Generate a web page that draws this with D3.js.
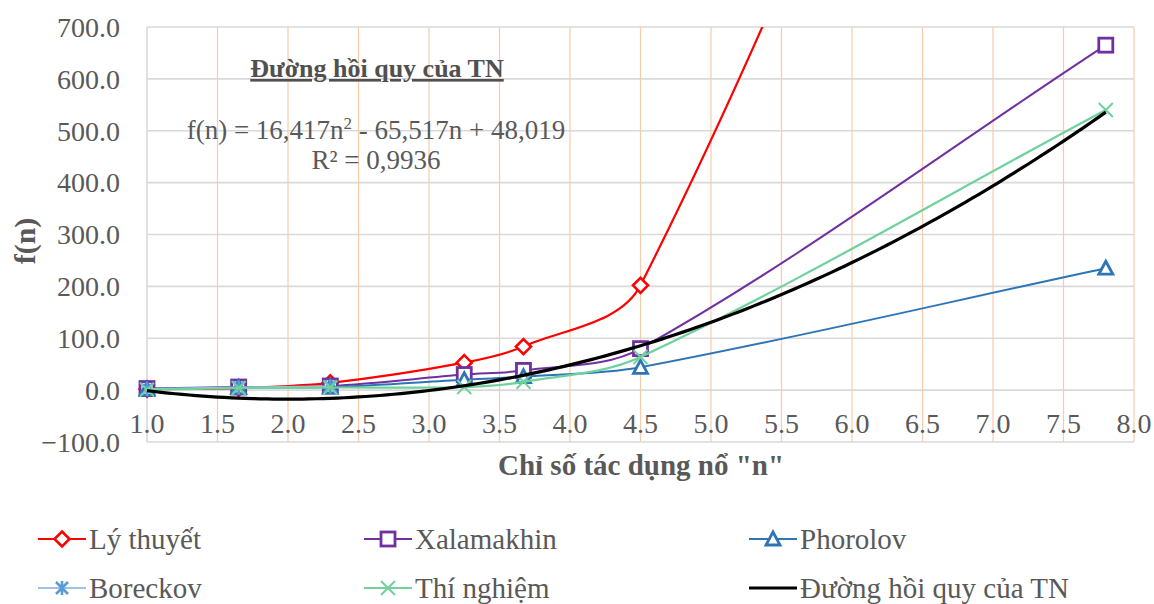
<!DOCTYPE html>
<html><head><meta charset="utf-8">
<script src="https://cdn.jsdelivr.net/npm/d3@7/dist/d3.min.js"></script>
<style>
html,body{margin:0;padding:0;background:#fff;}
svg{display:block;}
text{font-family:"Liberation Serif","Times New Roman",serif;}
</style></head>
<body>
<svg id="chart" width="1154" height="604"></svg>
<script>
// ---- data ----
const nValues = [1.0, 1.65, 2.3, 3.25, 3.67, 4.5, 7.8];
const lyThuyet = [2, 4, 14, 53, 84, 202, 2300];
const xalamakhin = [3, 6, 8, 30, 38, 80, 665];
const phorolov = [2, 5, 6, 20, 26, 44, 235];
const boreckov = [2, 5, 7, null, null, null, null];
const thiNghiem = [1, 4, 5, 6, 16, 64, 540];
const trendCoef = [16.417, -65.517, 48.019]; // a n^2 + b n + c
const trendRange = [1.0, 7.8];
const xTicks = [1.0, 1.5, 2.0, 2.5, 3.0, 3.5, 4.0, 4.5, 5.0, 5.5, 6.0, 6.5, 7.0, 7.5, 8.0];
const yTicks = [-100, 0, 100, 200, 300, 400, 500, 600, 700];
const seriesNames = ["Lý thuyết", "Xalamakhin", "Phorolov", "Boreckov", "Thí nghiệm", "Đường hồi quy của TN"];

// ---- layout ----
const FONT = "'Liberation Serif', 'Times New Roman', serif";
const svg = d3.select("#chart").attr("font-family", FONT);
const L = 147, R = 1134, T = 27, B = 442;
const x = d3.scaleLinear().domain([1, 8]).range([L, R]);
const y = d3.scaleLinear().domain([-100, 700]).range([B, T]);
const textColor = "#595959";

// Excel-like smoothed curve (Bezier, tangent split by segment length)
function ExcelSmooth(context) { this._context = context; }
ExcelSmooth.prototype = {
  areaStart() {}, areaEnd() {},
  lineStart() { this._pts = []; },
  point(px, py) { this._pts.push([+px, +py]); },
  lineEnd() {
    const p = this._pts, n = p.length, c = this._context, s = 1 / 3;
    if (!n) return;
    c.moveTo(p[0][0], p[0][1]);
    if (n === 1) return;
    const d = [];
    for (let i = 0; i < n - 1; i++) d.push(Math.hypot(p[i+1][0] - p[i][0], p[i+1][1] - p[i][1]));
    for (let i = 0; i < n - 1; i++) {
      let t1, r1, t2, r2;
      if (i > 0) { t1 = [p[i+1][0] - p[i-1][0], p[i+1][1] - p[i-1][1]]; r1 = d[i] / (d[i-1] + d[i]); }
      else { t1 = [p[1][0] - p[0][0], p[1][1] - p[0][1]]; r1 = 1; }
      if (i + 2 < n) { t2 = [p[i+2][0] - p[i][0], p[i+2][1] - p[i][1]]; r2 = d[i] / (d[i] + d[i+1]); }
      else { t2 = [p[i+1][0] - p[i][0], p[i+1][1] - p[i][1]]; r2 = 1; }
      c.bezierCurveTo(p[i][0] + t1[0]*s*r1, p[i][1] + t1[1]*s*r1,
                      p[i+1][0] - t2[0]*s*r2, p[i+1][1] - t2[1]*s*r2,
                      p[i+1][0], p[i+1][1]);
    }
  }
};
const curveExcel = ctx => new ExcelSmooth(ctx);

svg.append("defs").append("clipPath").attr("id", "plotclip")
  .append("rect").attr("x", L - 10).attr("y", T).attr("width", R - L + 20).attr("height", B - T);

// horizontal gridlines
svg.append("g").selectAll("line").data(yTicks).join("line")
  .attr("x1", L).attr("x2", R).attr("y1", d => y(d)).attr("y2", d => y(d))
  .attr("stroke", "#d9d9d9").attr("stroke-width", 1.6);
// vertical gridlines
svg.append("g").selectAll("line").data(xTicks.slice(1)).join("line")
  .attr("x1", d => x(d)).attr("x2", d => x(d)).attr("y1", T).attr("y2", B)
  .attr("stroke", "#f8cbad").attr("stroke-width", 1.2);
// value axis line
svg.append("line").attr("x1", L).attr("x2", L).attr("y1", T).attr("y2", B)
  .attr("stroke", "#d9d9d9").attr("stroke-width", 1.6);

// y tick labels
svg.append("g").selectAll("text").data(yTicks).join("text")
  .attr("font-family", FONT)
  .attr("x", 120).attr("y", d => y(d)).attr("dy", "0.35em")
  .attr("text-anchor", "end").attr("font-size", 28).attr("fill", textColor)
  .text(d => d3.format(".1f")(d));
// x tick labels
svg.append("g").selectAll("text").data(xTicks).join("text")
  .attr("font-family", FONT)
  .attr("x", d => x(d)).attr("y", 423).attr("dy", "0.35em")
  .attr("text-anchor", "middle").attr("font-size", 28).attr("fill", textColor)
  .text(d => d3.format(".1f")(d));

// axis titles
svg.append("text").attr("font-family", FONT).attr("transform", "translate(24,241) rotate(-90)")
  .attr("text-anchor", "middle").attr("dy", "0.35em")
  .attr("font-size", 30).attr("font-weight", "bold").attr("fill", textColor).text("f(n)");
svg.append("text").attr("font-family", FONT).attr("x", 641).attr("y", 465).attr("dy", "0.35em")
  .attr("text-anchor", "middle").attr("font-size", 29).attr("font-weight", "bold")
  .attr("fill", textColor).text('Chỉ số tác dụng nổ "n"');

// ---- series ----
const markers = {
  diamond: (g, c) => g.append("path").attr("d", "M0,-7.5L7.5,0L0,7.5L-7.5,0Z").attr("fill", "#fff").attr("stroke", c).attr("stroke-width", 2.6),
  square: (g, c) => g.append("rect").attr("x", -7).attr("y", -7).attr("width", 14).attr("height", 14).attr("fill", "#fff").attr("stroke", c).attr("stroke-width", 2.8),
  triangle: (g, c) => g.append("path").attr("d", "M0,-7L7,6L-7,6Z").attr("fill", "#fff").attr("stroke", c).attr("stroke-width", 2.8).attr("stroke-linejoin", "miter"),
  asterisk: (g, c) => g.append("path").attr("d", "M-6,-6L6,6M-6,6L6,-6M0,-7L0,7").attr("stroke", c).attr("stroke-width", 2.6),
  cross: (g, c) => g.append("path").attr("d", "M-7,-7L7,7M-7,7L7,-7").attr("stroke", c).attr("stroke-width", 2),
  none: () => {}
};

const series = [
  {name: seriesNames[0], values: lyThuyet, color: "#ff0000", width: 2.2, marker: "diamond", mcolor: "#ff0000"},
  {name: seriesNames[1], values: xalamakhin, color: "#7030a0", width: 2, marker: "square", mcolor: "#7030a0"},
  {name: seriesNames[2], values: phorolov, color: "#2e75b6", width: 2, marker: "triangle", mcolor: "#2e75b6"},
  {name: seriesNames[3], values: boreckov, color: "#9dc3e6", width: 2, marker: "asterisk", mcolor: "#5b9bd5"},
  {name: seriesNames[4], values: thiNghiem, color: "#6fd19c", width: 2.2, marker: "cross", mcolor: "#6fd19c"}
];

const line = d3.line().defined(d => d[1] != null)
  .x(d => x(d[0])).y(d => y(d[1])).curve(curveExcel);

const plot = svg.append("g").attr("clip-path", "url(#plotclip)");
series.forEach(s => {
  const pts = nValues.map((n, i) => [n, s.values[i]]);
  plot.append("path").datum(pts).attr("d", line).attr("fill", "none")
    .attr("stroke", s.color).attr("stroke-width", s.width);
  pts.filter(p => p[1] != null && p[1] <= 700).forEach(p => {
    const g = plot.append("g").attr("transform", `translate(${x(p[0])},${y(p[1])})`);
    markers[s.marker](g, s.mcolor);
  });
});

// trendline
const trendPts = d3.range(trendRange[0], trendRange[1] + 1e-9, 0.05).map(n => [n, trendCoef[0]*n*n + trendCoef[1]*n + trendCoef[2]]);
plot.append("path").datum(trendPts)
  .attr("d", d3.line().x(d => x(d[0])).y(d => y(d[1])))
  .attr("fill", "none").attr("stroke", "#000").attr("stroke-width", 3.2);

// annotation
const ann = svg.append("g").attr("fill", textColor).attr("text-anchor", "middle");
ann.append("text").attr("font-family", FONT).attr("x", 377).attr("y", 77).attr("font-size", 26)
  .attr("font-weight", "bold").attr("text-decoration", "underline").attr("fill", "#505050")
  .text("Đường hồi quy của TN");
const eq = ann.append("text").attr("font-family", FONT).attr("x", 376).attr("y", 139).attr("font-size", 27);
eq.append("tspan").text("f(n) = 16,417n");
eq.append("tspan").attr("font-size", 17).attr("dy", -10).text("2");
eq.append("tspan").attr("dy", 10).text(" - 65,517n + 48,019");
ann.append("text").attr("font-family", FONT).attr("x", 376).attr("y", 169).attr("font-size", 27).text("R² = 0,9936");

// legend
const legendItems = [
  {s: series[0], col: 0, row: 0}, {s: series[1], col: 1, row: 0}, {s: series[2], col: 2, row: 0},
  {s: series[3], col: 0, row: 1}, {s: series[4], col: 1, row: 1},
  {s: {name: seriesNames[5], color: "#000", width: 3.2, marker: "none"}, col: 2, row: 1}
];
const colX = [38, 364, 749], rowY = [539, 588];
legendItems.forEach(it => {
  const lx = colX[it.col], ly = rowY[it.row];
  const g = svg.append("g");
  g.append("line").attr("x1", lx).attr("x2", lx + 48).attr("y1", ly).attr("y2", ly)
    .attr("stroke", it.s.color).attr("stroke-width", it.s.width);
  const mg = g.append("g").attr("transform", `translate(${lx + 24},${ly})`);
  markers[it.s.marker](mg, it.s.mcolor);
  g.append("text").attr("font-family", FONT).attr("x", lx + 51).attr("y", ly).attr("dy", "0.35em")
    .attr("font-size", 29).attr("fill", textColor).text(it.s.name);
});
</script>
</body></html>
